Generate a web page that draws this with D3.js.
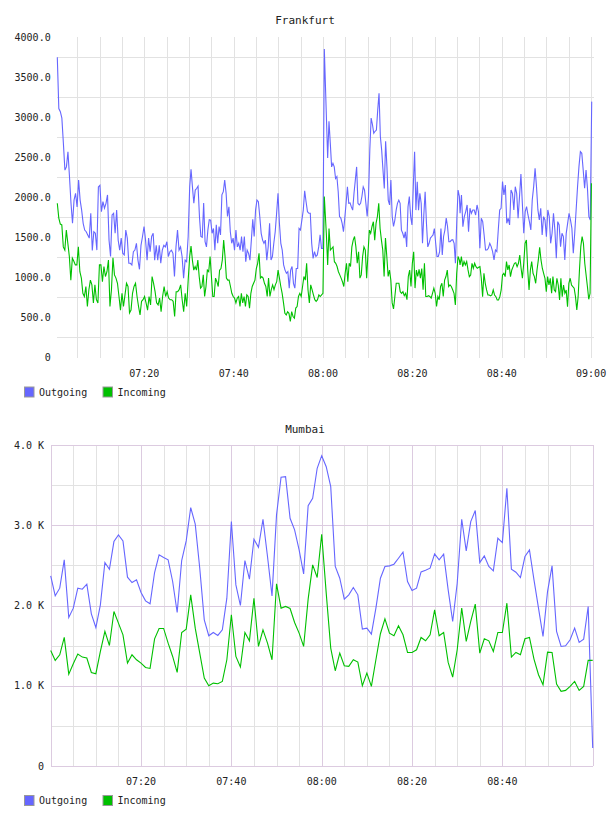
<!DOCTYPE html>
<html><head><meta charset="utf-8">
<script src="https://cdn.jsdelivr.net/npm/d3@7"></script>
<style>
html,body{margin:0;padding:0;background:#fff;}
svg{display:block;}
text{font-family:"DejaVu Sans Mono",monospace;fill:#222;}
</style></head><body>
<svg id="chart" width="608" height="816"></svg>
<script>
// ---------------- DATA ----------------
const seriesNames = ["Outgoing", "Incoming"];

// Frankfurt: samples recorded in four blocks; each block lists its first/last sample time
const frankfurtOutgoingSpans = [["07:00:31","07:30:09"],["07:30:27","08:00:17"],["08:01:02","08:30:31"],["08:30:40","09:00:08"]];
const frankfurtIncomingSpans = [["07:00:31","07:30:09"],["07:30:27","08:00:17"],["08:00:44","08:30:31"],["08:30:40","09:00:04"]];

const frankfurtOutgoing = [
 [3750,3110,3070,2990,2675,2340,2380,2570,2260,1925,1675,1965,2050,1880,2215,1965,1840,1675,1590,1570,1530,1490,1800,1335,1570,1550,1340,2130,2150,1820,1945,1865,1925,2030,1465,1260,1780,1800,1550,1840,1465,1340,1490,1300,1280,1590,1490,1175,1175,1155,1320,1340,1425,1215,1100,1400,1510,1635,1465,1215,1490,1320,1510,1550,1215,1400,1215,1400,1175,1340,1400,1380,1445,1260,1320,1340,1300,1010,1380,1590,1340,1380,1260,990,1215,1195,1510,2130],
 [2350,2130,1925,2090,2110,2140,1760,1510,1500,1930,1445,1380,1590,1720,1715,1550,1610,1340,1655,1425,1635,1530,2030,2070,2215,2050,1760,1880,1570,1425,1490,1340,1590,1380,1425,1340,1510,1320,1510,1195,1340,1300,1215,1465,1725,1510,1840,1965,1945,1760,1550,1465,1425,1465,1215,1380,1675,1215,1260,1425,1570,1800,2050,1675,1425,1340,1155,1090,1050,1070,865,1090,1135,925,865,1110,1110,1610,1590,1715,1840,2080,1945,1820,1800,1800,1425,1235,1320,1260,1280,1380,1530,1360,1360,3855],
 [2490,2950,2675,2380,2425,2380,2235,2260,2070,1760,1740,1675,1570,1740,1925,2130,1925,1930,1880,1840,2050,2215,2380,1925,1905,1925,2010,2130,2090,1925,1760,2010,2590,2990,2910,2800,2825,2840,3090,3300,2760,2590,2340,2110,2700,2380,1965,1905,2215,1760,1635,1715,1840,1925,1965,1925,1590,1550,1490,1570,1380,1880,2010,1760,1655,2130,2570,1840,2195,1840,2050,1925,1425,1780,2070,1675,1380,1425,1490,1510,1530,1610,1425,1260,1260,1320,1610,1280,1510,1590,1740,1635,1445,1445,1465,1470,1425,1175,1695,2090,2010],
 [1800,2029,1633,1758,1821,1904,1571,1863,1800,1842,1842,1779,1904,1821,1363,1738,1696,1529,1342,1342,1363,1425,1383,1321,1217,1342,1321,1592,1842,1863,2196,2029,2154,1675,1738,1654,2092,2050,1842,2133,2050,1738,2008,2292,1925,1550,1821,1883,1779,1696,1592,1967,2133,2363,2133,1842,1717,1863,1529,1758,1717,1508,1842,1758,1425,1550,1800,1592,1238,1696,1654,1383,1550,1508,1217,1550,1675,1800,1717,1613,1300,1550,1842,2133,2383,2571,2550,2342,2113,2342,2113,1758,1717,3196]
];
const frankfurtIncoming = [
 [1925,1740,1665,1655,1380,1340,1590,1425,1260,965,1240,1200,1155,1155,1380,1070,990,800,760,885,635,845,965,905,680,905,720,680,1155,1155,945,1135,1010,1070,1215,635,845,1245,1030,990,925,760,590,800,635,780,925,885,555,590,800,885,925,760,635,530,700,720,760,680,590,760,655,1010,925,820,680,655,740,570,760,885,760,820,740,720,720,700,510,820,820,845,905,720,570,800,635,965,1260],
 [1390,1215,1090,1135,1090,1215,1010,865,885,1030,760,885,1090,1070,1260,1010,760,760,990,945,885,1090,1110,1215,1465,1260,990,965,965,885,800,760,740,680,740,760,635,800,680,760,635,780,760,615,800,885,925,965,1110,1175,1300,990,1010,990,925,885,760,990,760,845,905,845,905,945,1090,990,885,800,680,550,530,570,550,450,570,510,490,615,635,760,800,760,885,1010,965,1175,845,680,905,845,780,720,700,720,780,760,780,800,2010],
 [1550,1155,1610,1340,1360,1380,1195,1175,1135,1070,1030,990,945,885,1050,1175,945,1175,1135,1380,1465,1510,1380,1175,1320,990,1030,1260,1380,1340,990,1300,1590,1550,1635,1695,1465,1675,1760,1925,1610,1465,1340,1010,1490,1260,1010,1090,965,680,605,760,925,925,925,820,800,820,770,800,720,1010,1090,885,1175,1320,865,1090,1010,1100,990,1110,845,1175,760,760,770,760,740,800,865,800,635,760,720,885,925,760,965,1010,1090,885,905,885,845,800,655,1050,1260,1215],
 [1154,1258,1133,1196,1154,1196,1092,1008,1029,1175,1113,1175,1133,1113,1125,1133,988,758,1050,925,842,779,779,767,779,842,779,758,717,717,758,842,1029,1050,1008,1196,1092,1154,1008,1092,1133,1175,1183,1133,1175,1279,1113,988,1175,1425,1467,1092,842,1092,1196,1050,1008,925,1092,1217,1375,1217,1113,1050,988,821,1008,904,988,800,1008,842,821,988,904,717,988,758,904,800,842,633,925,988,904,883,863,758,592,758,1092,1383,1508,1425,1175,1029,883,725,800,2175]
];
const frankfurtYTickValues = [0,500,1000,1500,2000,2500,3000,3500,4000];
const frankfurtYTickLabels = ["0","500.0","1000.0","1500.0","2000.0","2500.0","3000.0","3500.0","4000.0"];
const frankfurtYGridValues = [250,750,1250,1750,2250,2750,3250,3750];
const frankfurtXTickLabels = ["07:20","07:40","08:00","08:20","08:40","09:00"];

// Mumbai: one sample per minute from 07:00 to 09:00
const mumbaiStart = "07:00";
const mumbaiOutgoing = [2369,2120,2216,2569,1851,1967,2216,2203,2266,1896,1726,2008,2535,2452,2797,2880,2805,2353,2286,2320,2162,2058,2021,2411,2631,2598,2569,2299,1913,2560,2805,3220,3013,2465,1822,1623,1664,1627,1697,2091,
 3046,2257,2000,2560,2328,2826,2726,3075,2610,2120,3129,3598,3606,3087,2942,2693,2394,3245,3336,3710,3867,3730,3481,2486,2340,2079,2133,2224,2133,1706,1718,1643,1967,2340,2486,2494,2515,2589,2664,2299,2187,
 2216,2419,2440,2465,2643,2569,2639,2195,1801,2278,3075,2681,3046,3183,2535,2618,2486,2432,2838,2784,3461,2452,2415,2349,2610,2693,2320,1967,1614,2174,2494,1677,1490,1498,1573,1718,1540,1581,1988,224];
const mumbaiIncoming = [1440,1316,1386,1602,1145,1274,1394,1357,1345,1166,1150,1428,1677,1502,1925,1780,1635,1282,1386,1324,1282,1228,1216,1585,1714,1714,1531,1365,1166,1664,1706,2133,1718,1407,1096,1000,1033,1025,1054,1324,
 1884,1365,1233,1664,1560,2091,1490,1697,1531,1324,2270,1967,1988,1963,1789,1656,1490,2079,2506,2349,2888,2154,1469,1187,1407,1249,1241,1324,1295,1000,1158,992,1324,1648,1834,1656,1623,1747,1635,1415,1415,
 1448,1602,1560,1635,1946,1623,1664,1291,1108,1448,1967,1552,1801,2017,1407,1585,1560,1428,1664,1664,2029,1357,1415,1386,1585,1602,1332,1137,1013,1419,1415,1021,930,942,992,1054,942,992,1316,1316];
const mumbaiYTickValues = [0,1000,2000,3000,4000];
const mumbaiYTickLabels = ["0","1.0 K","2.0 K","3.0 K","4.0 K"];
const mumbaiYGridValues = [0,500,1000,1500,2000,2500,3000,3500,4000];
const mumbaiXTickLabels = ["07:20","07:40","08:00","08:20","08:40"];

// ---------------- STYLE ----------------
const colors = {Outgoing:"#6666ff", Incoming:"#00c000"};
const gridGrey = "#e2e2e2", gridPurple = "#dccbe0";

const svg = d3.select("#chart");
const parseT = d3.timeParse("%H:%M:%S");
const parseHM = d3.timeParse("%H:%M");

function chunkPoints(chunks, spans){
  const pts = [];
  chunks.forEach((vals, k) => {
    const t0 = parseT(spans[k][0]).getTime(), t1 = parseT(spans[k][1]).getTime();
    const n = vals.length;
    vals.forEach((v, i) => pts.push({t: new Date(t0 + (t1 - t0) * i / (n - 1)), v}));
  });
  return pts;
}

function legend(g, y){
  const items = [{name:seriesNames[0], x:24},{name:seriesNames[1], x:102.5}];
  items.forEach(it => {
    g.append("rect").attr("x", it.x + 0.5).attr("y", y - 5).attr("width", 9.5).attr("height", 10)
      .attr("fill", colors[it.name]).attr("stroke", "#999").attr("stroke-width", 1);
    g.append("text").attr("x", it.x + 15).attr("y", y).attr("dy", "0.35em")
      .attr("font-size", 10).text(it.name);
  });
}

// ---------------- FRANKFURT ----------------
(function(){
  const g = svg.append("g");
  const outPts = chunkPoints(frankfurtOutgoing, frankfurtOutgoingSpans);
  const inPts = chunkPoints(frankfurtIncoming, frankfurtIncomingSpans);
  const x = d3.scaleTime()
    .domain([d3.min(outPts, d => d.t), d3.max(outPts, d => d.t)])
    .range([57.3, 591.7]);
  const y = d3.scaleLinear().domain([0, 4000]).range([357.3, 37.3]);

  g.append("text").attr("x", 305).attr("y", 20.5).attr("dy", "0.35em")
    .attr("text-anchor", "middle").attr("font-size", 11).text("Frankfurt");

  const vTicks = d3.timeMinute.every(5).range(parseHM("07:05"), new Date(parseHM("09:00").getTime() + 1000));
  g.selectAll(".vg").data(vTicks).enter().append("line")
    .attr("x1", d => Math.round(x(d)) + 0.5).attr("x2", d => Math.round(x(d)) + 0.5)
    .attr("y1", y(4000)).attr("y2", y(0) + 1)
    .attr("stroke", gridGrey).attr("stroke-width", 1).attr("shape-rendering", "crispEdges");
  g.selectAll(".hg").data(frankfurtYGridValues).enter().append("line")
    .attr("x1", 57).attr("x2", 594)
    .attr("y1", d => Math.round(y(d)) + 0.5).attr("y2", d => Math.round(y(d)) + 0.5)
    .attr("stroke", gridGrey).attr("stroke-width", 1).attr("shape-rendering", "crispEdges");

  g.selectAll(".yl").data(frankfurtYTickValues).enter().append("text")
    .attr("x", 50.7).attr("y", d => y(d)).attr("dy", "0.35em").attr("text-anchor", "end")
    .attr("font-size", 10).text((d, i) => frankfurtYTickLabels[i]);
  g.selectAll(".xl").data(frankfurtXTickLabels).enter().append("text")
    .attr("x", d => x(parseHM(d))).attr("y", 373.3).attr("dy", "0.35em").attr("text-anchor", "middle")
    .attr("font-size", 10).text(d => d);

  const line = d3.line().x(d => x(d.t)).y(d => y(d.v));
  g.append("path").datum(outPts).attr("d", line).attr("fill", "none")
    .attr("stroke", colors.Outgoing).attr("stroke-width", 1.1);
  g.append("path").datum(inPts).attr("d", line).attr("fill", "none")
    .attr("stroke", colors.Incoming).attr("stroke-width", 1.1);

  legend(g, 392);
})();

// ---------------- MUMBAI ----------------
(function(){
  const g = svg.append("g");
  const t0 = parseHM(mumbaiStart);
  const outPts = mumbaiOutgoing.map((v, i) => ({t: d3.timeMinute.offset(t0, i), v}));
  const inPts = mumbaiIncoming.map((v, i) => ({t: d3.timeMinute.offset(t0, i), v}));
  const x = d3.scaleTime().domain([t0, d3.timeMinute.offset(t0, 120)]).range([50.7, 592.7]);
  const y = d3.scaleLinear().domain([0, 4000]).range([766, 445]);

  g.append("text").attr("x", 305).attr("y", 429).attr("dy", "0.35em")
    .attr("text-anchor", "middle").attr("font-size", 11).text("Mumbai");

  const vTicks = d3.timeMinute.every(5).range(t0, d3.timeMinute.offset(t0, 121));
  const isMajorT = d => d.getMinutes() % 20 === 0;
  g.selectAll(".vg").data(vTicks.filter(d => !isMajorT(d))).enter().append("line")
    .attr("x1", d => Math.round(x(d)) + 0.5).attr("x2", d => Math.round(x(d)) + 0.5)
    .attr("y1", y(4000)).attr("y2", y(0))
    .attr("stroke", gridGrey).attr("shape-rendering", "crispEdges");
  g.selectAll(".hg").data(mumbaiYGridValues.filter(d => d % 1000 !== 0)).enter().append("line")
    .attr("x1", x.range()[0]).attr("x2", x.range()[1])
    .attr("y1", d => Math.round(y(d)) + 0.5).attr("y2", d => Math.round(y(d)) + 0.5)
    .attr("stroke", gridGrey).attr("shape-rendering", "crispEdges");
  g.selectAll(".vgm").data(vTicks.filter(isMajorT)).enter().append("line")
    .attr("x1", d => Math.round(x(d)) + 0.5).attr("x2", d => Math.round(x(d)) + 0.5)
    .attr("y1", y(4000)).attr("y2", y(0))
    .attr("stroke", gridPurple).attr("shape-rendering", "crispEdges");
  g.selectAll(".hgm").data(mumbaiYGridValues.filter(d => d % 1000 === 0)).enter().append("line")
    .attr("x1", x.range()[0]).attr("x2", x.range()[1])
    .attr("y1", d => Math.round(y(d)) + 0.5).attr("y2", d => Math.round(y(d)) + 0.5)
    .attr("stroke", gridPurple).attr("shape-rendering", "crispEdges");

  g.selectAll(".yl").data(mumbaiYTickValues).enter().append("text")
    .attr("x", 44).attr("y", d => y(d)).attr("dy", "0.35em").attr("text-anchor", "end")
    .attr("font-size", 10).text((d, i) => mumbaiYTickLabels[i]);
  g.selectAll(".xl").data(mumbaiXTickLabels).enter().append("text")
    .attr("x", d => x(parseHM(d))).attr("y", 781.7).attr("dy", "0.35em").attr("text-anchor", "middle")
    .attr("font-size", 10).text(d => d);

  const line = d3.line().x(d => x(d.t)).y(d => y(d.v));
  g.append("path").datum(outPts).attr("d", line).attr("fill", "none")
    .attr("stroke", colors.Outgoing).attr("stroke-width", 1.1);
  g.append("path").datum(inPts).attr("d", line).attr("fill", "none")
    .attr("stroke", colors.Incoming).attr("stroke-width", 1.1);

  legend(g, 800.5);
})();
</script>
</body></html>
